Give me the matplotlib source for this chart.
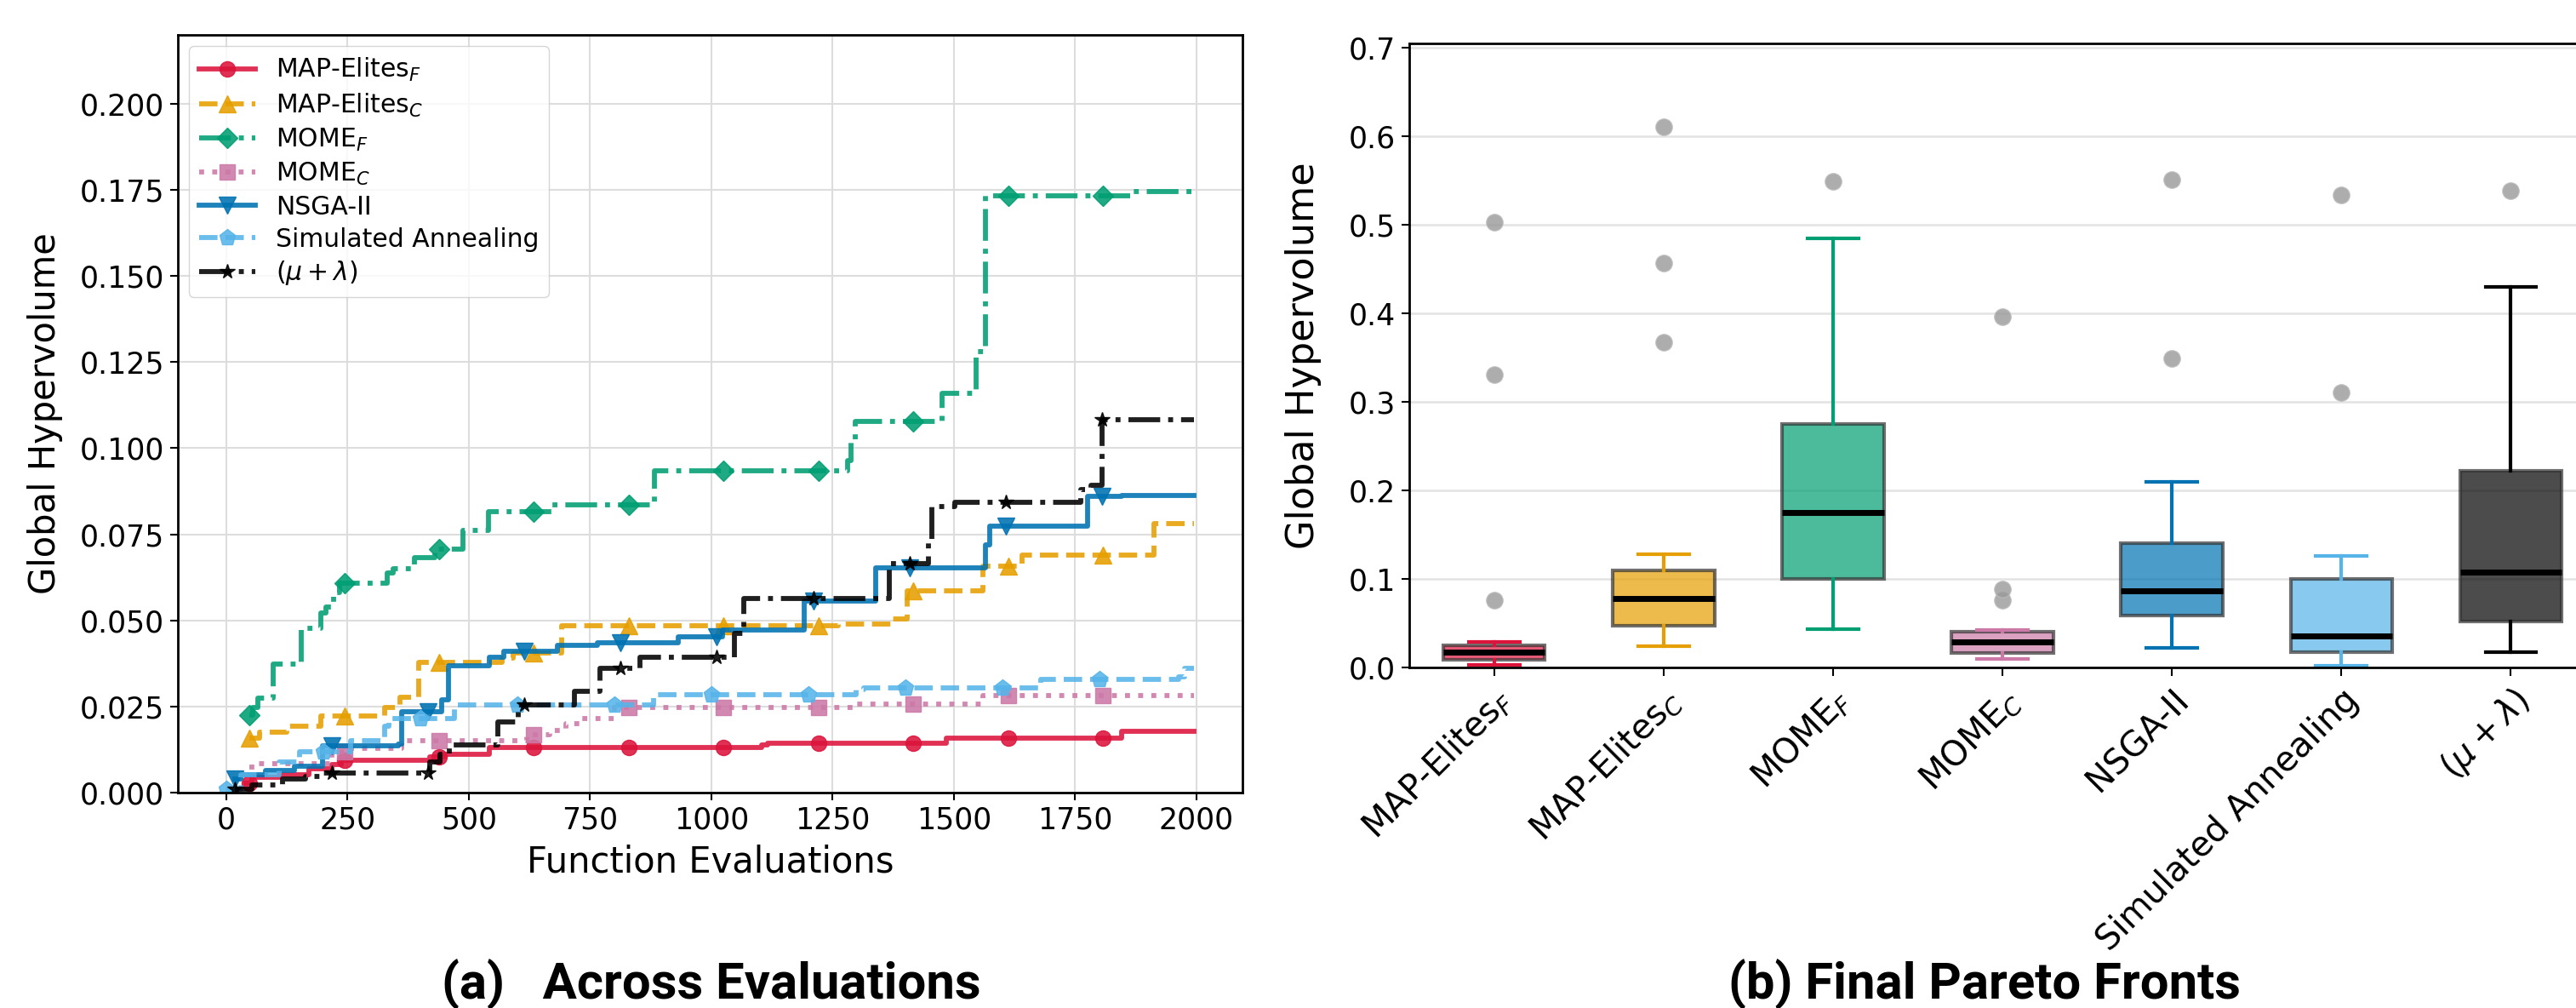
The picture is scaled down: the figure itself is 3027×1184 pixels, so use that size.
import numpy as np
import matplotlib
matplotlib.use("Agg")
import matplotlib.pyplot as plt

# ---- data: hypervolume across evaluations (step breakpoints) ----
MAPF_X = [40, 53, 108, 171, 218, 237, 420, 449, 543, 1103, 1115, 1484, 1846, 1995]
MAPF_Y = [0.0027, 0.0044, 0.0052, 0.0068, 0.0081, 0.0093, 0.0104, 0.0112, 0.0131,
          0.0138, 0.0143, 0.0159, 0.0177, 0.0177]

MAPC_X = [47, 69, 124, 194, 327, 358, 396, 568, 591, 692, 1262, 1374, 1404, 1560,
          1641, 1913, 1995]
MAPC_Y = [0.0159, 0.0176, 0.0192, 0.0222, 0.0246, 0.0278, 0.0377, 0.0390, 0.0406,
          0.0485, 0.0489, 0.0504, 0.0585, 0.0658, 0.0690, 0.0781, 0.0781]

MOMEF_X = [47, 55, 65, 96, 155, 194, 205, 221, 233, 331, 343, 388, 429, 487, 540,
           671, 882, 1280, 1288, 1297, 1475, 1545, 1565, 1869, 1995]
MOMEF_Y = [0.0225, 0.0246, 0.0275, 0.0374, 0.0477, 0.0522, 0.0540, 0.0580, 0.0609,
           0.0637, 0.0649, 0.0683, 0.0708, 0.0761, 0.0815, 0.0836, 0.0934, 0.0965,
           0.1017, 0.1077, 0.1160, 0.1280, 0.1733, 0.1745, 0.1745]

MOMEC_X = [48, 60, 218, 250, 362, 620, 666, 700, 730, 800, 1296, 1560, 1995]
MOMEC_Y = [0.0073, 0.0085, 0.0118, 0.0128, 0.0151, 0.0167, 0.0180, 0.0201, 0.0214,
           0.0246, 0.0258, 0.0282, 0.0282]

NSGA_X = [18, 30, 80, 140, 198, 354, 362, 443, 458, 543, 572, 683, 765, 931, 1022,
          1191, 1338, 1565, 1574, 1776, 1845, 1995]
NSGA_Y = [0.0040, 0.0052, 0.0065, 0.0077, 0.0136, 0.0140, 0.0235, 0.0270, 0.0369,
          0.0394, 0.0410, 0.0427, 0.0435, 0.0452, 0.0472, 0.0555, 0.0653, 0.0720,
          0.0774, 0.0859, 0.0863, 0.0863]

SA_X = [0, 30, 108, 150, 257, 327, 335, 470, 880, 1299, 1314, 1679, 1963, 1975, 1995]
SA_Y = [0.0010, 0.0052, 0.0089, 0.0118, 0.0151, 0.0192, 0.0215, 0.0255, 0.0285,
        0.0299, 0.0303, 0.0328, 0.0336, 0.0361, 0.0361]

MUL_X = [18, 53, 116, 163, 200, 420, 440, 460, 560, 601, 718, 771, 852, 1048, 1066,
         1367, 1448, 1454, 1501, 1761, 1782, 1805, 1995]
MUL_Y = [0.0011, 0.0023, 0.0040, 0.0048, 0.0056, 0.0088, 0.0110, 0.0138, 0.0204,
         0.0254, 0.0295, 0.0361, 0.0394, 0.0463, 0.0563, 0.0666, 0.0728, 0.0830,
         0.0843, 0.0880, 0.0892, 0.1082, 0.1082]

# evaluation counts where markers were logged
ME_MARK_X = [47, 243, 438, 634, 829, 1025, 1221, 1416, 1612, 1807]
POP_MARK_X = [18, 217, 415, 614, 812, 1011, 1210, 1408, 1607, 1805]
SA_MARK_X = [0, 200, 400, 600, 800, 1000, 1200, 1400, 1600, 1800]

# ---- data: final pareto fronts (box stats) ----
BOX_LABELS = ["MAP-Elites$_F$", "MAP-Elites$_C$", "MOME$_F$", "MOME$_C$", "NSGA-II",
              "Simulated Annealing", r"$(\mu + \lambda)$"]
BOX_MED = [0.017, 0.078, 0.175, 0.029, 0.0865, 0.036, 0.108]
BOX_Q1 = [0.009, 0.047, 0.0996, 0.016, 0.059, 0.0174, 0.052]
BOX_Q3 = [0.025, 0.110, 0.275, 0.040, 0.140, 0.100, 0.222]
BOX_LO = [0.003, 0.024, 0.0436, 0.0095, 0.0225, 0.002, 0.017]
BOX_HI = [0.029, 0.128, 0.485, 0.042, 0.210, 0.126, 0.430]
BOX_FLIERS = [[0.076, 0.331, 0.503], [0.367, 0.457, 0.611], [0.549],
              [0.076, 0.089, 0.396], [0.349, 0.551], [0.311, 0.534], [0.539]]

COLORS = ["#DC143C", "#E69F00", "#009E73", "#CC79A7", "#0072B2", "#56B4E9", "#000000"]


def step_series(xs, ys, mark_x):
    # merge the marker evaluations into the step data so markevery can hit them
    xs = np.asarray(xs, dtype=float)
    ys = np.asarray(ys, dtype=float)
    mark_x = [m for m in mark_x if m >= xs[0]]
    allx = np.unique(np.concatenate([xs, mark_x]))
    idx = np.searchsorted(xs, allx, side="right") - 1
    ally = ys[np.clip(idx, 0, len(ys) - 1)]
    mark_idx = [int(np.where(allx == m)[0][0]) for m in mark_x]
    return allx, ally, mark_idx


plt.rcParams["font.family"] = ["DejaVu Sans"]

fig = plt.figure(figsize=(30.27, 11.84), dpi=100)

# ---------------- (a) across evaluations ----------------
ax1 = fig.add_axes([0.06905, 0.2137, 0.4133, 0.7517])

series = [
    (MAPF_X, MAPF_Y, ME_MARK_X, "-", "o", 13, BOX_LABELS[0]),
    (MAPC_X, MAPC_Y, ME_MARK_X, "--", "^", 14, BOX_LABELS[1]),
    (MOMEF_X, MOMEF_Y, ME_MARK_X, "-.", "D", 12.5, BOX_LABELS[2]),
    (MOMEC_X, MOMEC_Y, ME_MARK_X, ":", "s", 13, BOX_LABELS[3]),
    (NSGA_X, NSGA_Y, POP_MARK_X, "-", "v", 14, BOX_LABELS[4]),
    (SA_X, SA_Y, SA_MARK_X, "--", "p", 14, BOX_LABELS[5]),
    (MUL_X, MUL_Y, POP_MARK_X, "-.", "*", 13, BOX_LABELS[6]),
]
for i, (xs, ys, mk, ls, marker, ms, lab) in enumerate(series):
    px, py, midx = step_series(xs, ys, mk)
    ax1.plot(px, py, drawstyle="steps-post", linestyle=ls, color=COLORS[i],
             linewidth=4.2, marker=marker, markersize=ms, markevery=midx,
             alpha=0.88, label=lab)

ax1.set_xlim(-100, 2095)
ax1.set_ylim(0, 0.22)
ax1.set_xticks(np.arange(0, 2001, 250))
ax1.set_yticks(np.arange(0, 0.2001, 0.025))
ax1.yaxis.set_major_formatter(matplotlib.ticker.FormatStrFormatter("%.3f"))
ax1.grid(True, color="#dddddd", linewidth=1.5)
ax1.set_axisbelow(True)
ax1.tick_params(labelsize=25, length=6.5, width=1.5, pad=5)
for sp in ax1.spines.values():
    sp.set_linewidth(2)
ax1.set_xlabel("Function Evaluations", fontsize=30)
ax1.set_ylabel("Global Hypervolume", fontsize=30)
ax1.xaxis.set_label_coords(0.5, -0.068)
ax1.yaxis.set_label_coords(-0.108, 0.5)
ax1.legend(loc="upper left", fontsize=21.5, handlelength=2.2, labelspacing=0.3,
           borderaxespad=0.45, framealpha=0.8, edgecolor="#cccccc")

# ---------------- (b) final pareto fronts ----------------
ax2 = fig.add_axes([0.5471, 0.3378, 0.4605, 0.6191])

stats = []
for i in range(len(BOX_LABELS)):
    stats.append({"med": BOX_MED[i], "q1": BOX_Q1[i], "q3": BOX_Q3[i],
                  "whislo": BOX_LO[i], "whishi": BOX_HI[i],
                  "fliers": BOX_FLIERS[i], "label": BOX_LABELS[i]})

bp = ax2.bxp(stats, positions=np.arange(len(stats)), widths=0.6, patch_artist=True,
             boxprops=dict(edgecolor="#444444", linewidth=3),
             medianprops=dict(color="black", linewidth=5),
             flierprops=dict(marker="o", markersize=14, markerfacecolor="#999999",
                             markeredgecolor="#bbbbbb", alpha=0.8))
for i, box in enumerate(bp["boxes"]):
    box.set_facecolor(COLORS[i])
    box.set_alpha(0.7)
    box.set_edgecolor("#333333")
for i in range(len(stats)):
    for w in bp["whiskers"][2 * i:2 * i + 2]:
        w.set_color(COLORS[i])
        w.set_linewidth(3)
    for c in bp["caps"][2 * i:2 * i + 2]:
        c.set_color(COLORS[i])
        c.set_linewidth(3)

ax2.set_xlim(-0.5, 6.5)
ax2.set_ylim(0, 0.705)
ax2.set_yticks(np.arange(0, 0.71, 0.1))
ax2.yaxis.set_major_formatter(matplotlib.ticker.FormatStrFormatter("%.1f"))
ax2.yaxis.grid(True, color="#e3e3e3", linewidth=1.8)
ax2.set_axisbelow(True)
ax2.tick_params(axis="y", labelsize=25, length=6.5, width=1.5, pad=5)
ax2.tick_params(axis="x", labelsize=29, length=7, width=1.5, pad=6)
plt.setp(ax2.get_xticklabels(), rotation=45, ha="right", rotation_mode="anchor")
for sp in ax2.spines.values():
    sp.set_linewidth(2)
ax2.set_ylabel("Global Hypervolume", fontsize=32)
ax2.yaxis.set_label_coords(-0.074, 0.5)

# ---------------- captions ----------------
fig.text(836 / 3027, 1 - 1157 / 1184, "(a)   Across Evaluations", ha="center",
         va="center", fontsize=43, fontweight="bold", family=["Roboto", "DejaVu Sans"])
fig.text(2332 / 3027, 1 - 1157 / 1184, "(b) Final Pareto Fronts", ha="center",
         va="center", fontsize=43, fontweight="bold", family=["Roboto", "DejaVu Sans"])

fig.savefig("out.png", dpi=100)
